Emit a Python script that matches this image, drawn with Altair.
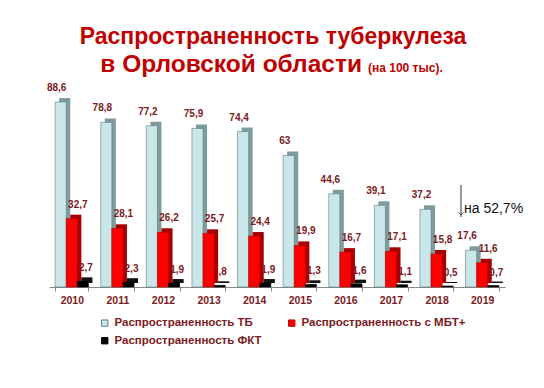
import altair as alt
import pandas as pd

years = ["2010", "2011", "2012", "2013", "2014", "2015", "2016", "2017", "2018", "2019"]
series = ["Распространенность ТБ", "Распространенность с МБТ+", "Распространенность ФКТ"]
tb = [88.6, 78.8, 77.2, 75.9, 74.4, 63, 44.6, 39.1, 37.2, 17.6]
mbt = [32.7, 28.1, 26.2, 25.7, 24.4, 19.9, 16.7, 17.1, 15.8, 11.6]
fkt = [2.7, 2.3, 1.9, 0.8, 1.9, 1.3, 1.6, 1.1, 0.5, 0.7]
tb_lbl = ["88,6", "78,8", "77,2", "75,9", "74,4", "63", "44,6", "39,1", "37,2", "17,6"]
mbt_lbl = ["32,7", "28,1", "26,2", "25,7", "24,4", "19,9", "16,7", "17,1", "15,8", "11,6"]
fkt_lbl = ["2,7", "2,3", "1,9", ",8", "1,9", "1,3", "1,6", "1,1", "0,5", "0,7"]

front = ["#C9E7E9", "#FF0000", "#000000"]
side = ["#7E9C9E", "#A80000", "#111111"]
strokes = ["#5F7C7E", "#B00000", "#000000"]

rows = []
for vals, lbls, s in [(tb, tb_lbl, series[0]), (mbt, mbt_lbl, series[1]), (fkt, fkt_lbl, series[2])]:
    for y, v, l in zip(years, vals, lbls):
        rows.append({"year": y, "series": s, "value": v, "label": l})
df = pd.DataFrame(rows)

LBL = "#7B1A22"
W, H = 456, 188
STEP = W / len(years)
BW = STEP * 0.73
DEPTH = 4

xenc = alt.X("year:N", sort=years, title=None,
             scale=alt.Scale(paddingInner=0.27, paddingOuter=0.135),
             axis=alt.Axis(labelAngle=0, labelFont="Liberation Sans", labelFontWeight="bold",
                           labelFontSize=10.5, labelColor=LBL, domainColor="#888888",
                           tickColor="#888888", tickSize=4, labelPadding=4,
                           tickBand="extent", grid=False))
yenc = alt.Y("value:Q", scale=alt.Scale(domain=[0, 90]), axis=None, title=None)
xoff = alt.XOffset("series:N", sort=series, scale=alt.Scale(domain=series, paddingInner=0.0))
xoff_sh = alt.XOffset("series:N", sort=series,
                      scale=alt.Scale(domain=series, paddingInner=0.0, range=[DEPTH, BW + DEPTH]))

base = alt.Chart(df)

shadow = base.mark_bar(yOffset=-DEPTH, y2Offset=-DEPTH).encode(
    x=xenc, y=yenc, xOffset=xoff_sh,
    color=alt.Color("series:N", sort=series, scale=alt.Scale(domain=series, range=side), legend=None),
)

bars = base.mark_bar(strokeWidth=0.6).encode(
    x=xenc, y=yenc, xOffset=xoff,
    color=alt.Color("series:N", sort=series, scale=alt.Scale(domain=series, range=front), title=None,
                    legend=alt.Legend(orient="none", legendX=50, legendY=218, columns=2,
                                      direction="horizontal", values=series,
                                      columnPadding=24, rowPadding=5, symbolType="square",
                                      symbolSize=40, symbolStrokeColor="#555555", symbolStrokeWidth=1,
                                      labelFont="Liberation Sans", labelFontWeight="bold",
                                      labelFontSize=11.5, labelColor=LBL, padding=0, labelLimit=300)),
    stroke=alt.Stroke("series:N", sort=series, scale=alt.Scale(domain=series, range=strokes), legend=None),
)

def lbl_layer(s, dx, dy):
    return base.transform_filter(alt.datum.series == s).mark_text(
        font="Liberation Sans", fontWeight="bold", fontSize=10, color=LBL, dx=dx, dy=dy, baseline="bottom"
    ).encode(x=xenc, y=yenc, xOffset=xoff, text="label:N")

labels = lbl_layer(series[0], -4, -9) + lbl_layer(series[1], 6, -9) + lbl_layer(series[2], 3, -8)

TITLE_C = "#C00000"
ann = pd.DataFrame({"t1": ["Распространенность туберкулеза"], "t2": ["в Орловской области"],
                    "t3": ["(на 100 тыс)."], "t4": ["на 52,7%"]})
abase = alt.Chart(ann)
t1 = abase.mark_text(font="Liberation Sans", fontWeight="bold", fontSize=23, color=TITLE_C,
                     align="center", baseline="alphabetic").encode(x=alt.value(224), y=alt.value(-55), text="t1:N")
t2 = abase.mark_text(font="Liberation Sans", fontWeight="bold", fontSize=24.5, color=TITLE_C,
                     align="right", baseline="alphabetic").encode(x=alt.value(313), y=alt.value(-27), text="t2:N")
t3 = abase.mark_text(font="Liberation Sans", fontWeight="bold", fontSize=12, color=TITLE_C,
                     align="left", baseline="alphabetic").encode(x=alt.value(319), y=alt.value(-27), text="t3:N")
t4 = abase.mark_text(font="Liberation Sans", fontSize=14, color="#111111",
                     align="left", baseline="middle").encode(x=alt.value(415), y=alt.value(110), text="t4:N")
arrow = abase.mark_rule(color="#333333", strokeWidth=1).encode(
    x=alt.value(412), y=alt.value(86), y2=alt.value(118))
head = abase.mark_point(shape="M-1,-1L0,0L1,-1", size=30, filled=False, color="#333333", strokeWidth=1).encode(
    x=alt.value(412), y=alt.value(116))

chart = alt.layer(shadow, bars, labels, t1, t2, t3, t4, arrow, head).resolve_scale(
    color="independent", stroke="independent", xOffset="independent"
).properties(
    width=W, height=H, autosize=alt.AutoSizeParams(type="none"),
    padding={"left": 41, "top": 91, "right": 31, "bottom": 93}, background="white"
).configure_view(stroke=None)

chart.save("out.html", embed_options={"renderer": "svg", "actions": False})
